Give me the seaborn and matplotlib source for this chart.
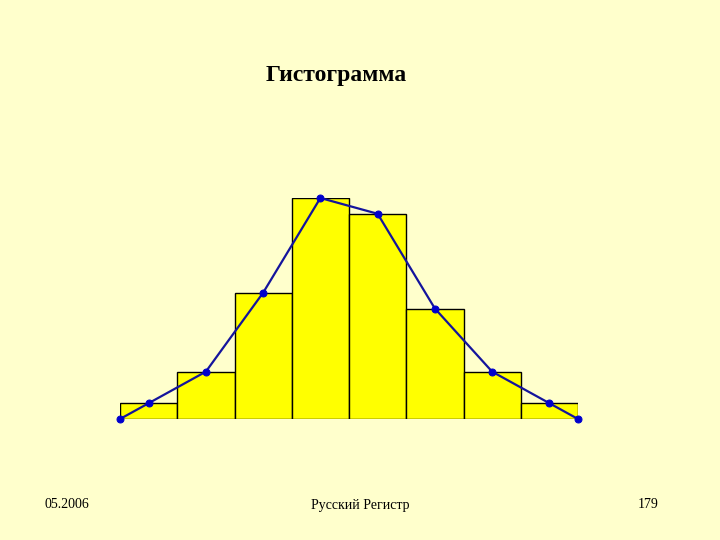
import matplotlib
matplotlib.use('Agg')
from matplotlib import pyplot as plt
import pandas as pd
import seaborn as sns

# histogram data
bins = ['1', '2', '3', '4', '5', '6', '7', '8']
counts = [2, 6, 16, 28, 26, 14, 6, 2]

# frequency polygon: bin centres plus zero at outer edges
poly_x = [-0.5, 0, 1, 2, 3, 4, 5, 6, 7, 7.5]
poly_y = [0] + counts + [0]

bg = '#FFFFCC'

sns.set_theme(style='white')
plt.rcParams['font.family'] = ['Liberation Serif', 'DejaVu Serif']
plt.rcParams['text.color'] = 'black'

fig = plt.figure(figsize=(7.2, 5.4), dpi=100, facecolor=bg)
ax = fig.add_axes([120 / 720, 121 / 540, 458 / 720, 221 / 540])
ax.set_facecolor(bg)

df = pd.DataFrame({'bin': bins, 'count': counts})
sns.barplot(data=df, x='bin', y='count', color='#FFFF00', width=1.0,
            edgecolor='black', linewidth=1.0, saturation=1, ax=ax)

poly = pd.DataFrame({'x': poly_x, 'y': poly_y})
sns.lineplot(data=poly, x='x', y='y', color='#14149C', linewidth=1.6,
             marker='o', markersize=5, markeredgecolor='#0000CC',
             markerfacecolor='#0000CC', clip_on=False, ax=ax)

ax.set_xlim(-0.5, 7.5)
ax.set_ylim(0, 28)
ax.set_xlabel('')
ax.set_ylabel('')
ax.set_xticks([])
ax.set_yticks([])
sns.despine(ax=ax, left=True, bottom=True)

fig.text(336 / 720, 1 - 75 / 540, 'Гистограмма', ha='center', va='center',
         fontsize=17, fontweight='bold', color='black')
fig.text(67 / 720, 1 - 505 / 540, '05.2006', ha='center', va='center', fontsize=10, color='black')
fig.text(360 / 720, 1 - 505 / 540, 'Русский Регистр', ha='center', va='center', fontsize=10, color='black')
fig.text(648 / 720, 1 - 505 / 540, '179', ha='center', va='center', fontsize=10, color='black')

fig.savefig('out.png', dpi=100, facecolor=bg)
